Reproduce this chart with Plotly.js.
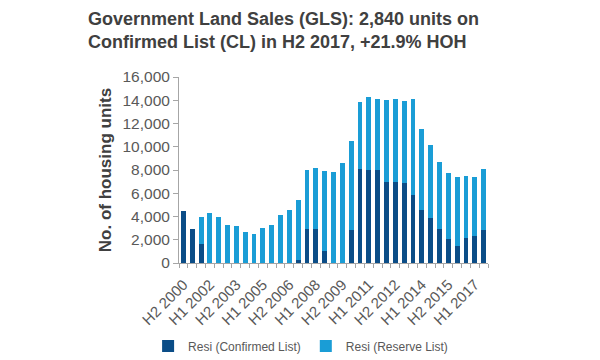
<!DOCTYPE html>
<html>
<head>
<meta charset="utf-8">
<script src="https://cdn.plot.ly/plotly-3.0.1.min.js"></script>
<style>html,body{margin:0;padding:0;background:#fff;}#chart{width:600px;height:360px;}</style>
</head>
<body>
<div id="chart"></div>
<script>
const periods = [
  'H2 2000',
  'H1 2001','H2 2001','H1 2002','H2 2002','H1 2003','H2 2003','H1 2004','H2 2004',
  'H1 2005','H2 2005','H1 2006','H2 2006','H1 2007','H2 2007','H1 2008','H2 2008',
  'H1 2009','H2 2009','H1 2010','H2 2010','H1 2011','H2 2011','H1 2012','H2 2012',
  'H1 2013','H2 2013','H1 2014','H2 2014','H1 2015','H2 2015','H1 2016','H2 2016',
  'H1 2017','H2 2017'
];
const confirmedList = [
  4450,
  2900,1640,0,0,0,0,0,0,
  0,0,0,0,230,2910,2910,1040,
  0,0,2850,8080,8030,8030,6960,6960,
  6880,5840,4580,3890,2910,2080,1440,2130,
  2330,2840
];
const reserveList = [
  0,
  0,2330,4290,4000,3310,3190,2710,2500,
  3050,3310,4120,4600,5180,5090,5260,6870,
  7830,8600,7650,5760,6210,6090,7080,7160,
  7070,8260,6960,6270,5810,5690,5930,5350,
  5090,5240
];
const shownTickLabels = ['H2 2000','H1 2002','H2 2003','H1 2005','H2 2006','H1 2008',
  'H2 2009','H1 2011','H2 2012','H1 2014','H2 2015','H1 2017'];
const yTickValues = [0,2000,4000,6000,8000,10000,12000,14000,16000];

const FONT = '"Liberation Sans", Arial, sans-serif';
const traces = [
  {type:'bar', name:'Resi (Confirmed List)', x:periods, y:confirmedList,
   marker:{color:'#0b4d87'}},
  {type:'bar', name:'Resi (Reserve List)', x:periods, y:reserveList,
   marker:{color:'#1a9dd6'}}
];
const layout = {
  width:600, height:360,
  margin:{l:179, r:112, t:77, b:97, autoexpand:false},
  barmode:'stack', bargap:0.45,
  paper_bgcolor:'#fff', plot_bgcolor:'#fff',
  font:{family:FONT, color:'#595959', size:15},
  title:{text:'<b>Government Land Sales (GLS): 2,840 units on<br>Confirmed List (CL) in H2 2017, +21.9% HOH</b>',
    x:88/600, xanchor:'left', xref:'container', y:1-25/360, yanchor:'bottom', yref:'container',
    font:{family:FONT, size:18, color:'#404040'}},
  xaxis:{type:'category', tickmode:'array', tickvals:periods,
    ticktext:periods.map(p => shownTickLabels.includes(p) ? p : ''),
    tickangle:-45, tickson:'boundaries', ticks:'outside', ticklen:4, tickcolor:'#a6a6a6',
    ticklabelstandoff:6,
    showline:true, linecolor:'#a6a6a6', linewidth:1, showgrid:false, zeroline:false,
    tickfont:{size:15, color:'#595959'}},
  yaxis:{range:[0,16000], tickmode:'array', tickvals:yTickValues,
    ticks:'outside', ticklen:5, tickcolor:'#a6a6a6', showline:true, linecolor:'#a6a6a6',
    showgrid:false, zeroline:false, tickformat:',d', tickfont:{size:15.5, color:'#595959'},
    title:{text:'<b>No. of housing units</b>', standoff:6, font:{size:17, color:'#404040'}}},
  legend:{orientation:'h', xref:'paper', x:-0.1, xanchor:'left', yref:'paper', y:-0.446,
    yanchor:'middle', font:{size:12, color:'#595959'}, traceorder:'normal', itemwidth:30},
  showlegend:true
};
Plotly.newPlot('chart', traces, layout, {displayModeBar:false, staticPlot:true});
</script>
</body>
</html>
